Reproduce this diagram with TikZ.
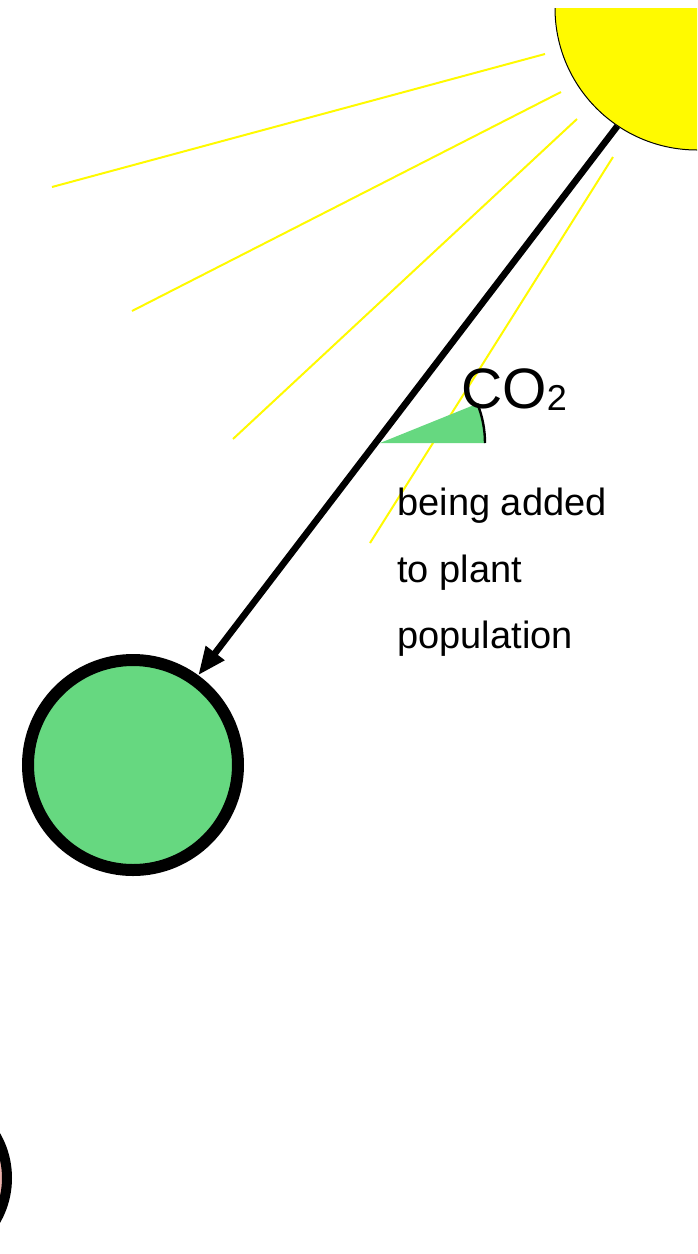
\documentclass[tikz,border=0pt]{standalone}
\usepackage{fontspec}
\setmainfont{Liberation Sans}
\usetikzlibrary{arrows.meta,positioning}
\definecolor{sunyellow}{RGB}{255,250,0}
\definecolor{plantgreen}{RGB}{102,216,128}
\definecolor{animalpink}{RGB}{236,178,172}

\begin{document}
\begin{tikzpicture}[>=Stealth,x=0.5pt,y=-0.5pt]
\tikzstyle{ray}=[sunyellow,line width=1pt]
\tikzstyle{pop}=[circle,draw,inner sep=0pt]
\tikzstyle{lbl}=[anchor=base west,inner sep=0pt,font=\fontsize{19}{23}\selectfont]
\useasboundingbox (0,0) rectangle (697,1254);
\clip (0,8) rectangle (697,1254);
% sun and its rays
\draw[ray] (52,187) -- (545,54);
\draw[ray] (132,311) -- (561,92);
\draw[ray] (233,439) -- (577,119);
\draw[ray] (370,543) -- (613,157);
\node[pop,fill=sunyellow,line width=0.5pt,minimum size=142pt] (sun) at (697,8) {};
% populations
\node[pop,fill=plantgreen,line width=6pt,minimum size=105pt] (plant) at (133,765) {};
\node[pop,fill=animalpink,line width=5pt,minimum size=85pt] (animal) at (-78,1178) {};
\draw[->,line width=3.3pt,>={Triangle[length=14pt,width=11pt]}] (sun.-124) -- (plant.54);
% flow gauge
\coordinate (gauge) at (380,443);
\fill[plantgreen] (gauge) -- ++(52.5pt,0) arc[start angle=0,end angle=22,radius=52.5pt] -- cycle;
\draw[line width=1.2pt] (gauge) ++(52.5pt,0) arc[start angle=0,end angle=22,radius=52.5pt];
\node[anchor=base west,inner sep=0pt,font=\fontsize{28.5}{30}\selectfont] (co2) at (461,408) {CO\raisebox{-1pt}{\fontsize{18}{18}\selectfont 2}};
\node[lbl] (l1) at (397,515) {being added};
\node[lbl] (l2) at (397,582) {to plant};
\node[lbl] (l3) at (397,648) {population};
\end{tikzpicture}
\end{document}
